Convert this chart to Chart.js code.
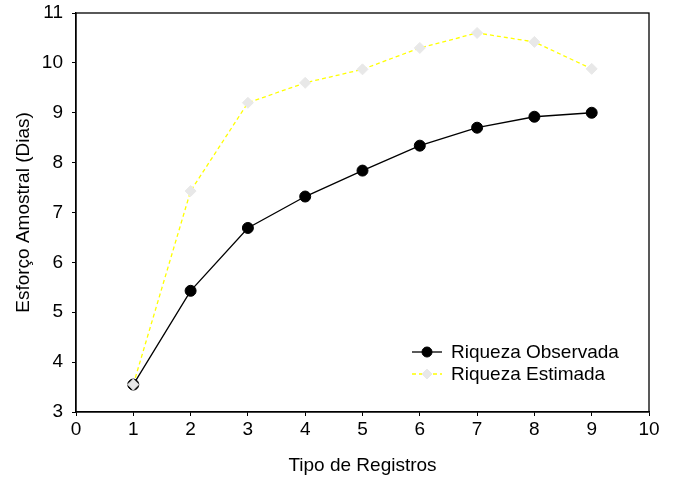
<!DOCTYPE html>
<html>
<head>
<meta charset="utf-8">
<script src="https://cdn.jsdelivr.net/npm/chart.js@4/dist/chart.umd.min.js"></script>
<style>
  html, body { margin: 0; padding: 0; background: #fff; }
  #wrap { width: 676px; height: 479px; }
</style>
</head>
<body>
<div id="wrap"><canvas id="chart" width="676" height="479"></canvas></div>
<script>
// dados
const tipos = [1, 2, 3, 4, 5, 6, 7, 8, 9];
const riquezaObservada = [3.55, 5.43, 6.69, 7.32, 7.84, 8.34, 8.70, 8.92, 9.00];
const riquezaEstimada = [3.55, 7.43, 9.20, 9.60, 9.87, 10.30, 10.60, 10.42, 9.88];
const serieNomes = ['Riqueza Observada', 'Riqueza Estimada'];
const xTitulo = 'Tipo de Registros';
const yTitulo = 'Esforço Amostral (Dias)';

const FONT = 'Liberation Sans, Arial, sans-serif';
const FS = 19;

// moldura completa em volta da área do gráfico
const framePlugin = {
    id: 'frame',
    afterDraw(chart) {
        const { ctx, chartArea: a } = chart;
        ctx.save();
        ctx.strokeStyle = '#000';
        ctx.lineWidth = 1.3;
        ctx.strokeRect(a.left, a.top, a.right - a.left, a.bottom - a.top);
        ctx.restore();
    }
};

// legenda dentro da área, canto inferior direito
const insideLegend = {
    id: 'insideLegend',
    afterDatasetsDraw(chart) {
        const { ctx, chartArea: a } = chart;
        const x0 = a.left + 336, y0 = a.bottom - 60;
        ctx.save();
        chart.data.datasets.forEach((ds, i) => {
            const y = y0 + i * 22;
            ctx.strokeStyle = ds.borderColor;
            ctx.lineWidth = ds.borderWidth;
            ctx.setLineDash(ds.borderDash || []);
            ctx.beginPath();
            ctx.moveTo(x0, y);
            ctx.lineTo(x0 + 30, y);
            ctx.stroke();
            ctx.setLineDash([]);
            ctx.fillStyle = ds.pointBackgroundColor;
            ctx.strokeStyle = ds.pointBorderColor;
            ctx.lineWidth = 1;
            Chart.helpers.drawPoint(ctx, {
                pointStyle: ds.pointStyle,
                radius: 5,
                borderWidth: 1
            }, x0 + 15, y);
            ctx.fillStyle = '#000';
            ctx.font = FS + 'px ' + FONT;
            ctx.textBaseline = 'middle';
            ctx.fillText(ds.label, x0 + 39, y + 1);
        });
        ctx.restore();
    }
};

const ctx = document.getElementById('chart').getContext('2d');
new Chart(ctx, {
    type: 'line',
    data: {
        datasets: [
            {
                label: serieNomes[0],
                data: tipos.map((t, i) => ({ x: t, y: riquezaObservada[i] })),
                borderColor: '#000',
                borderWidth: 1.3,
                pointStyle: 'circle',
                pointRadius: 5.5,
                pointBackgroundColor: '#000',
                pointBorderColor: '#000',
                pointBorderWidth: 1,
                tension: 0,
                order: 2
            },
            {
                label: serieNomes[1],
                data: tipos.map((t, i) => ({ x: t, y: riquezaEstimada[i] })),
                borderColor: '#ffff00',
                borderWidth: 1.3,
                borderDash: [4, 3],
                pointStyle: 'rectRot',
                pointRadius: 5.5,
                pointBackgroundColor: '#e8e8e8',
                pointBorderColor: '#e8e8e8',
                pointBorderWidth: 1,
                tension: 0,
                order: 1
            }
        ]
    },
    options: {
        responsive: false,
        animation: false,
        layout: { padding: { top: 13, right: 27, left: 0, bottom: 0 } },
        plugins: {
            legend: { display: false },
            tooltip: { enabled: false }
        },
        scales: {
            x: {
                type: 'linear',
                min: 0,
                max: 10,
                afterFit: (s) => { s.height = 67; s.paddingLeft = 0; s.paddingRight = 0; },
                ticks: {
                    stepSize: 1,
                    color: '#000',
                    font: { family: FONT, size: FS },
                    padding: 2
                },
                grid: {
                    drawOnChartArea: false,
                    drawTicks: true,
                    tickLength: 4,
                    color: '#000'
                },
                border: { color: '#000', width: 1.3 },
                title: {
                    display: true,
                    text: xTitulo,
                    color: '#000',
                    font: { family: FONT, size: FS },
                    padding: { top: 0, bottom: 2 }
                }
            },
            y: {
                min: 3,
                max: 11,
                afterFit: (s) => { s.width = 76; s.paddingTop = 0; s.paddingBottom = 0; },
                ticks: {
                    stepSize: 1,
                    color: '#000',
                    font: { family: FONT, size: FS },
                    padding: 9
                },
                grid: {
                    drawOnChartArea: false,
                    drawTicks: true,
                    tickLength: 4,
                    color: '#000'
                },
                border: { color: '#000', width: 1.3 },
                title: {
                    display: true,
                    text: yTitulo,
                    color: '#000',
                    font: { family: FONT, size: FS },
                    padding: { top: 12, bottom: 0 }
                }
            }
        }
    },
    plugins: [framePlugin, insideLegend]
});
</script>
</body>
</html>
